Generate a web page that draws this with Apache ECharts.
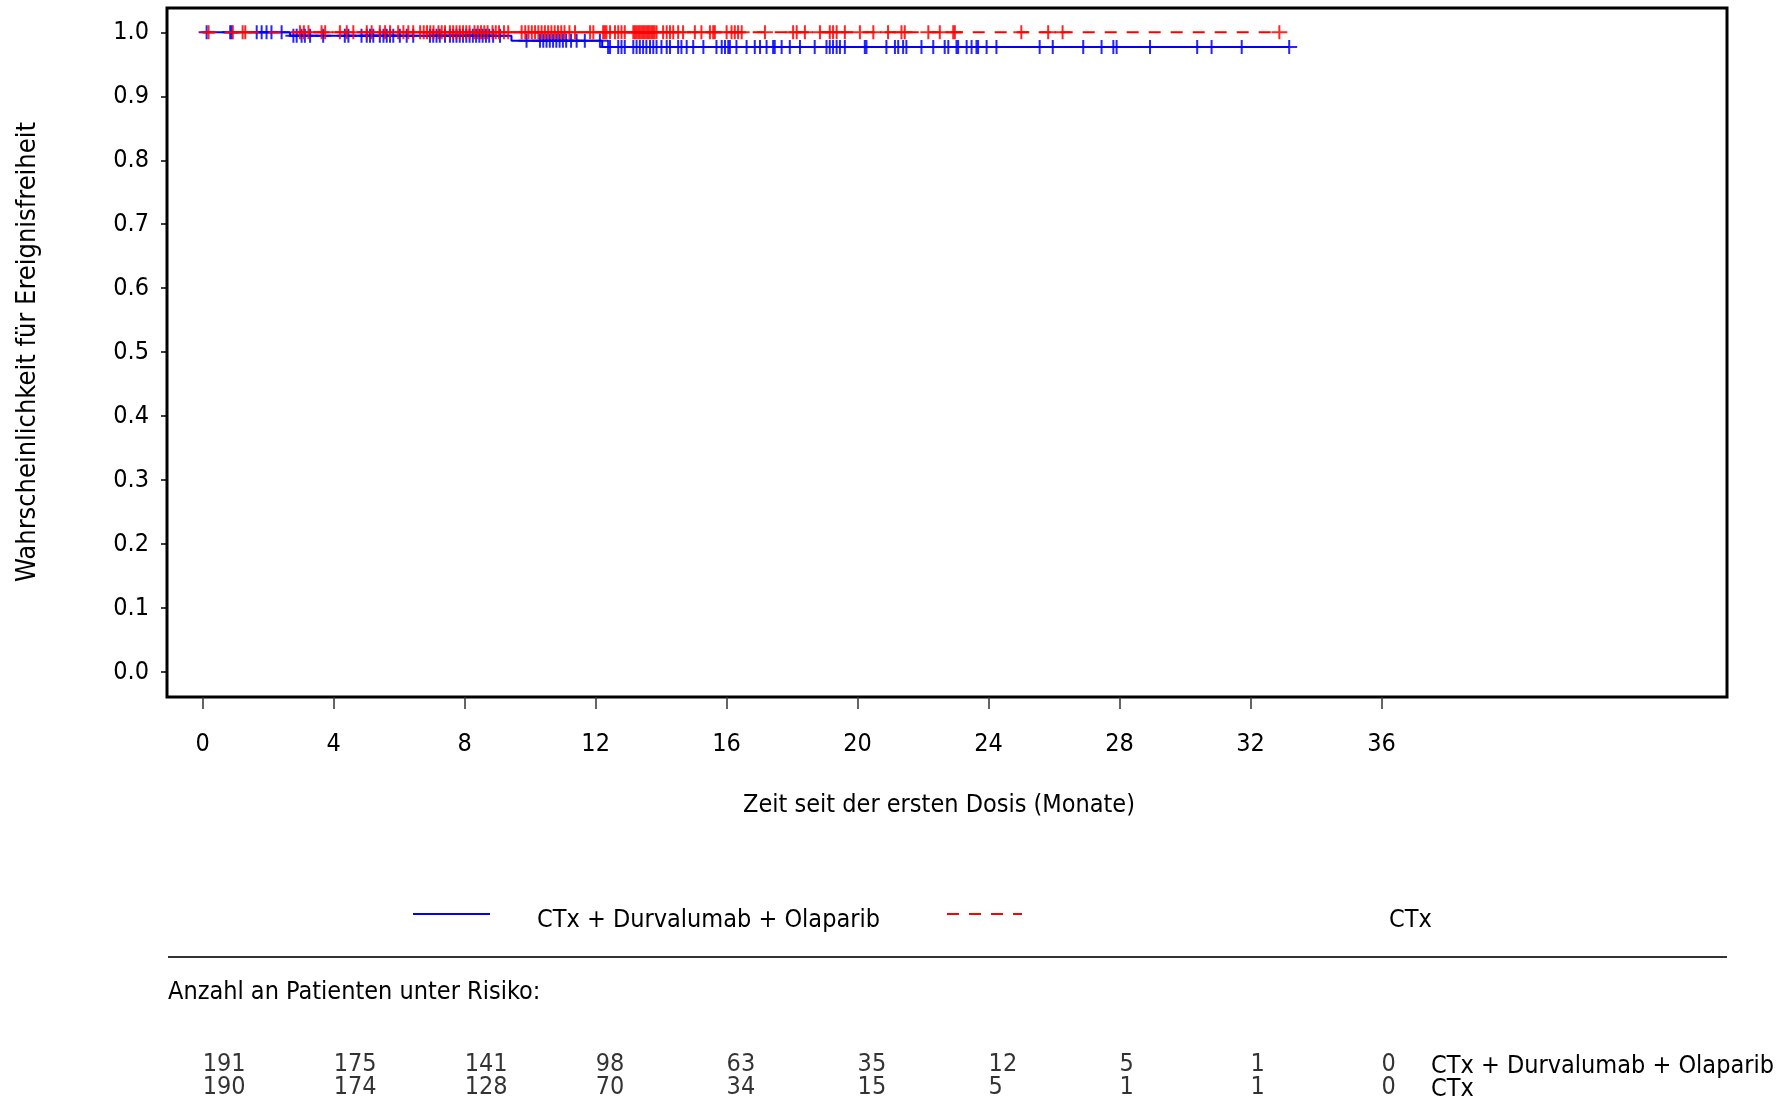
<!DOCTYPE html>
<html>
<head>
<meta charset="utf-8">
<script src="https://cdn.jsdelivr.net/npm/echarts@6/dist/echarts.min.js"></script>
<style>html,body{margin:0;padding:0;background:#fff}#c{width:1791px;height:1100px}</style>
</head>
<body>
<div id="c"></div>
<script>
const FONT = "'DejaVu Sans Condensed','Liberation Sans',sans-serif";
const xTicks = [0, 4, 8, 12, 16, 20, 24, 28, 32, 36];
const yTicks = [0, 0.1, 0.2, 0.3, 0.4, 0.5, 0.6, 0.7, 0.8, 0.9, 1.0];
const nameA = 'CTx + Durvalumab + Olaparib';
const nameB = 'CTx';
// Kaplan-Meier step points (time in months, survival after that time)
const stepTimesA = [0, 2.67, 9.43, 12.2, 33.18];
const stepSurvA = [1, 0.9948, 0.987, 0.977, 0.977];
const stepTimesB = [0, 32.88];
const stepSurvB = [1, 1];
// censoring times
const censorA = [0.12, 0.84, 0.88, 1.65, 1.8, 1.95, 2.1, 2.41, 2.77, 2.87, 3.02, 3.12, 3.28, 3.68, 4.34, 4.45, 4.85, 5.01, 5.11, 5.21, 5.41, 5.52, 5.62, 5.72, 5.82, 6.02, 6.23, 6.43, 6.94, 7.04, 7.14, 7.24, 7.4, 7.55, 7.65, 7.75, 7.85, 7.95, 8.05, 8.15, 8.25, 8.35, 8.45, 8.55, 8.65, 8.75, 8.87, 9.08, 9.89, 10.3, 10.4, 10.5, 10.6, 10.7, 10.8, 10.9, 11.0, 11.1, 11.25, 11.42, 11.67, 12.13, 12.38, 12.44, 12.69, 12.79, 12.89, 13.15, 13.25, 13.35, 13.45, 13.55, 13.66, 13.76, 13.86, 14.01, 14.17, 14.27, 14.52, 14.62, 14.78, 14.98, 15.29, 15.69, 15.85, 15.95, 16.05, 16.1, 16.3, 16.61, 16.86, 17.02, 17.22, 17.42, 17.47, 17.68, 17.93, 18.24, 18.69, 19.05, 19.15, 19.25, 19.36, 19.46, 19.61, 20.22, 20.27, 20.88, 21.14, 21.24, 21.39, 21.49, 21.95, 22.31, 22.66, 22.77, 23.02, 23.07, 23.33, 23.48, 23.63, 23.68, 23.94, 24.24, 25.56, 25.96, 26.89, 27.45, 27.81, 27.91, 28.93, 30.37, 30.81, 31.73, 33.18];
const censorB = [0.18, 0.92, 1.22, 1.30, 2.97, 3.09, 3.23, 3.63, 3.74, 4.19, 4.4, 4.6, 5.01, 5.16, 5.41, 5.57, 5.72, 5.97, 6.13, 6.28, 6.43, 6.64, 6.75, 6.85, 6.95, 7.05, 7.2, 7.3, 7.4, 7.55, 7.65, 7.75, 7.85, 7.95, 8.05, 8.15, 8.3, 8.4, 8.5, 8.6, 8.7, 8.85, 8.95, 9.05, 9.2, 9.33, 9.74, 9.85, 9.95, 10.05, 10.15, 10.25, 10.35, 10.45, 10.55, 10.65, 10.75, 10.85, 10.95, 11.05, 11.2, 11.37, 11.83, 11.93, 12.23, 12.28, 12.33, 12.44, 12.59, 12.69, 12.79, 12.89, 13.15, 13.2, 13.25, 13.3, 13.35, 13.4, 13.45, 13.5, 13.55, 13.6, 13.65, 13.7, 13.75, 13.8, 13.86, 14.06, 14.17, 14.27, 14.37, 14.52, 14.67, 15.03, 15.23, 15.49, 15.59, 15.64, 16.0, 16.15, 16.25, 16.35, 16.46, 17.17, 18.03, 18.14, 18.39, 18.85, 19.15, 19.25, 19.36, 19.61, 20.07, 20.48, 20.93, 21.34, 21.44, 22.16, 22.51, 22.92, 22.97, 25.0, 25.82, 26.26, 32.88];
// numbers at risk at xTicks
const riskA = [191, 175, 141, 98, 63, 35, 12, 5, 1, 0];
const riskB = [190, 174, 128, 70, 34, 15, 5, 1, 1, 0];

function survAt(t, times, vals) {
  let s = vals[0];
  for (let i = 0; i < times.length; i++) { if (times[i] <= t) s = vals[i]; }
  return s;
}
const PLUS = 'path://M7,0h2v14h-2z M0,6h16v2h-16z';
const X_MIN = -1.09, X_MAX = 46.55;
const txt = (text, x, y, size, extra) => Object.assign({ type: 'text', x: x, y: y,
  style: { text: text, font: size + 'px ' + FONT, fill: '#000', align: 'left', verticalAlign: 'middle' } }, extra || {});

const chart = echarts.init(document.getElementById('c'));
const option = {
  animation: false,
  backgroundColor: '#fff',
  textStyle: { fontFamily: FONT },
  grid: [
    { left: 167, top: 8, width: 1560, height: 689, show: true, borderColor: '#000', borderWidth: 3, backgroundColor: 'transparent' },
    { left: 167, top: 1040, width: 1560, height: 60, show: false }
  ],
  xAxis: [
    { gridIndex: 0, type: 'value', min: X_MIN, max: X_MAX, position: 'bottom',
      axisLine: { show: false, onZero: false }, splitLine: { show: false },
      axisTick: { show: true, inside: false, length: 12, customValues: xTicks, lineStyle: { color: '#333', width: 1.5 } },
      axisLabel: { customValues: xTicks, margin: 35, fontSize: 25, color: '#000', fontFamily: FONT } },
    { gridIndex: 1, type: 'value', min: X_MIN, max: X_MAX, show: false }
  ],
  yAxis: [
    { gridIndex: 0, type: 'value', min: -0.039, max: 1.038, position: 'left',
      axisLine: { show: false, onZero: false }, splitLine: { show: false },
      axisTick: { show: true, inside: false, length: 6, customValues: yTicks, lineStyle: { color: '#000', width: 1.5 } },
      axisLabel: { customValues: yTicks, margin: 18, fontSize: 25, color: '#000', fontFamily: FONT,
        padding: [10, 0, 0, 0], formatter: v => v.toFixed(1) } },
    { gridIndex: 1, type: 'value', min: 0, max: 3, show: false }
  ],
  series: [
    { name: nameA, type: 'line', xAxisIndex: 0, yAxisIndex: 0, step: 'end', showSymbol: false, symbol: 'none',
      data: stepTimesA.map((t, i) => [t, stepSurvA[i]]), lineStyle: { color: '#0000ff', width: 2 }, z: 2 },
    { name: nameA + ' zensiert', type: 'scatter', xAxisIndex: 0, yAxisIndex: 0, symbol: PLUS, symbolSize: [16, 14],
      data: censorA.map(t => [t, survAt(t, stepTimesA, stepSurvA)]), itemStyle: { color: '#0000ff', opacity: 0.85 }, z: 3 },
    { name: nameB, type: 'line', xAxisIndex: 0, yAxisIndex: 0, step: 'end', showSymbol: false, symbol: 'none',
      data: stepTimesB.map((t, i) => [t, stepSurvB[i]]), lineStyle: { color: '#ff0000', width: 2, type: [12, 10] }, z: 4 },
    { name: nameB + ' zensiert', type: 'scatter', xAxisIndex: 0, yAxisIndex: 0, symbol: PLUS, symbolSize: [16, 14],
      data: censorB.map(t => [t, survAt(t, stepTimesB, stepSurvB)]), itemStyle: { color: '#ff0000', opacity: 0.85 }, z: 5 },
    { name: 'riskA', type: 'scatter', xAxisIndex: 1, yAxisIndex: 1, symbolSize: 0, silent: true,
      data: xTicks.map((t, i) => [t, 1.78, riskA[i]]),
      label: { show: true, position: 'right', distance: 0, formatter: p => String(p.value[2]), fontSize: 25, color: '#000', fontFamily: FONT } },
    { name: 'riskB', type: 'scatter', xAxisIndex: 1, yAxisIndex: 1, symbolSize: 0, silent: true,
      data: xTicks.map((t, i) => [t, 0.63, riskB[i]]),
      label: { show: true, position: 'right', distance: 0, formatter: p => String(p.value[2]), fontSize: 25, color: '#000', fontFamily: FONT } }
  ],
  graphic: [
    { type: 'text', x: 939, y: 805, style: { text: 'Zeit seit der ersten Dosis (Monate)', font: '25px ' + FONT, fill: '#000', align: 'center', verticalAlign: 'middle' } },
    { type: 'text', x: 28, y: 352, rotation: Math.PI / 2, style: { text: 'Wahrscheinlichkeit für Ereignisfreiheit', font: '27px ' + FONT, fill: '#000', align: 'center', verticalAlign: 'middle' } },
    { type: 'line', shape: { x1: 413, y1: 914, x2: 490, y2: 914 }, style: { stroke: '#0000ff', lineWidth: 2 } },
    txt(nameA, 537, 920, 25),
    { type: 'line', shape: { x1: 947, y1: 914, x2: 1022, y2: 914 }, style: { stroke: '#ff0000', lineWidth: 2, lineDash: [12, 10] } },
    txt(nameB, 1389, 920, 25),
    { type: 'line', shape: { x1: 168, y1: 957, x2: 1727, y2: 957 }, style: { stroke: '#333', lineWidth: 2 } },
    txt('Anzahl an Patienten unter Risiko:', 168, 992, 25),
    txt(nameA, 1431, 1066, 25),
    txt(nameB, 1431, 1089, 25)
  ]
};
chart.setOption(option);
</script>
</body>
</html>
